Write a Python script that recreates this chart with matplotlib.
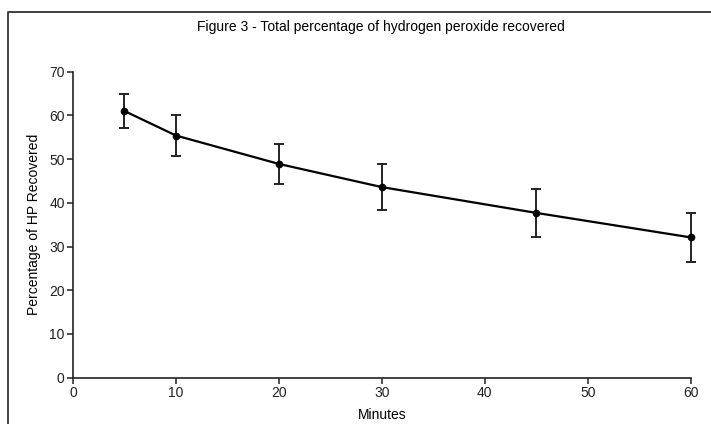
import matplotlib
matplotlib.use('Agg')
from matplotlib import pyplot as plt
from matplotlib.lines import Line2D

plt.rcParams['font.family'] = ['Liberation Sans', 'DejaVu Sans']

# data
minutes = [5, 10, 20, 30, 45, 60]
recovered = [61.0, 55.4, 48.9, 43.6, 37.7, 32.1]
error = [3.9, 4.7, 4.5, 5.2, 5.5, 5.6]

x_ticks = [0, 10, 20, 30, 40, 50, 60]
y_ticks = [0, 10, 20, 30, 40, 50, 60, 70]

fig = plt.figure(figsize=(7.11, 4.24), dpi=100)
ax = fig.add_axes([0.1027, 0.1092, 0.8687, 0.7217])

bars = ax.errorbar(minutes, recovered, yerr=error, color='black', ecolor='#222222',
                   linewidth=1.6, elinewidth=1.4, capsize=3.6, capthick=1.4,
                   marker='o', markersize=4.5)
for artist in bars.lines[0:1] + tuple(bars.lines[1]) + tuple(bars.lines[2]):
    artist.set_clip_on(False)

ax.set_xlim(0, 60)
ax.set_ylim(0, 70)
ax.set_xticks(x_ticks)
ax.set_yticks(y_ticks)
ax.spines['top'].set_visible(False)
ax.spines['right'].set_visible(False)
for s in ['left', 'bottom']:
    ax.spines[s].set_linewidth(1.2)
    ax.spines[s].set_color('#222222')
ax.tick_params(axis='both', labelsize=10, colors='#222222', length=4, width=1.1, pad=2)

fig.text(0.537, 1 - 415 / 424, 'Minutes', ha='center', va='center', fontsize=10)
ax.set_ylabel('Percentage of HP Recovered', fontsize=10, labelpad=6)
fig.text(0.536, 1 - 27 / 424, 'Figure 3 - Total percentage of hydrogen peroxide recovered',
         ha='center', va='center', fontsize=10)

# outer frame (left and top only)
fig.add_artist(Line2D([8 / 711, 8 / 711, 1.0], [0.0, 1 - 12 / 424, 1 - 12 / 424],
                      transform=fig.transFigure, color='#333333', linewidth=1.3))

fig.savefig('out.png', dpi=100)
